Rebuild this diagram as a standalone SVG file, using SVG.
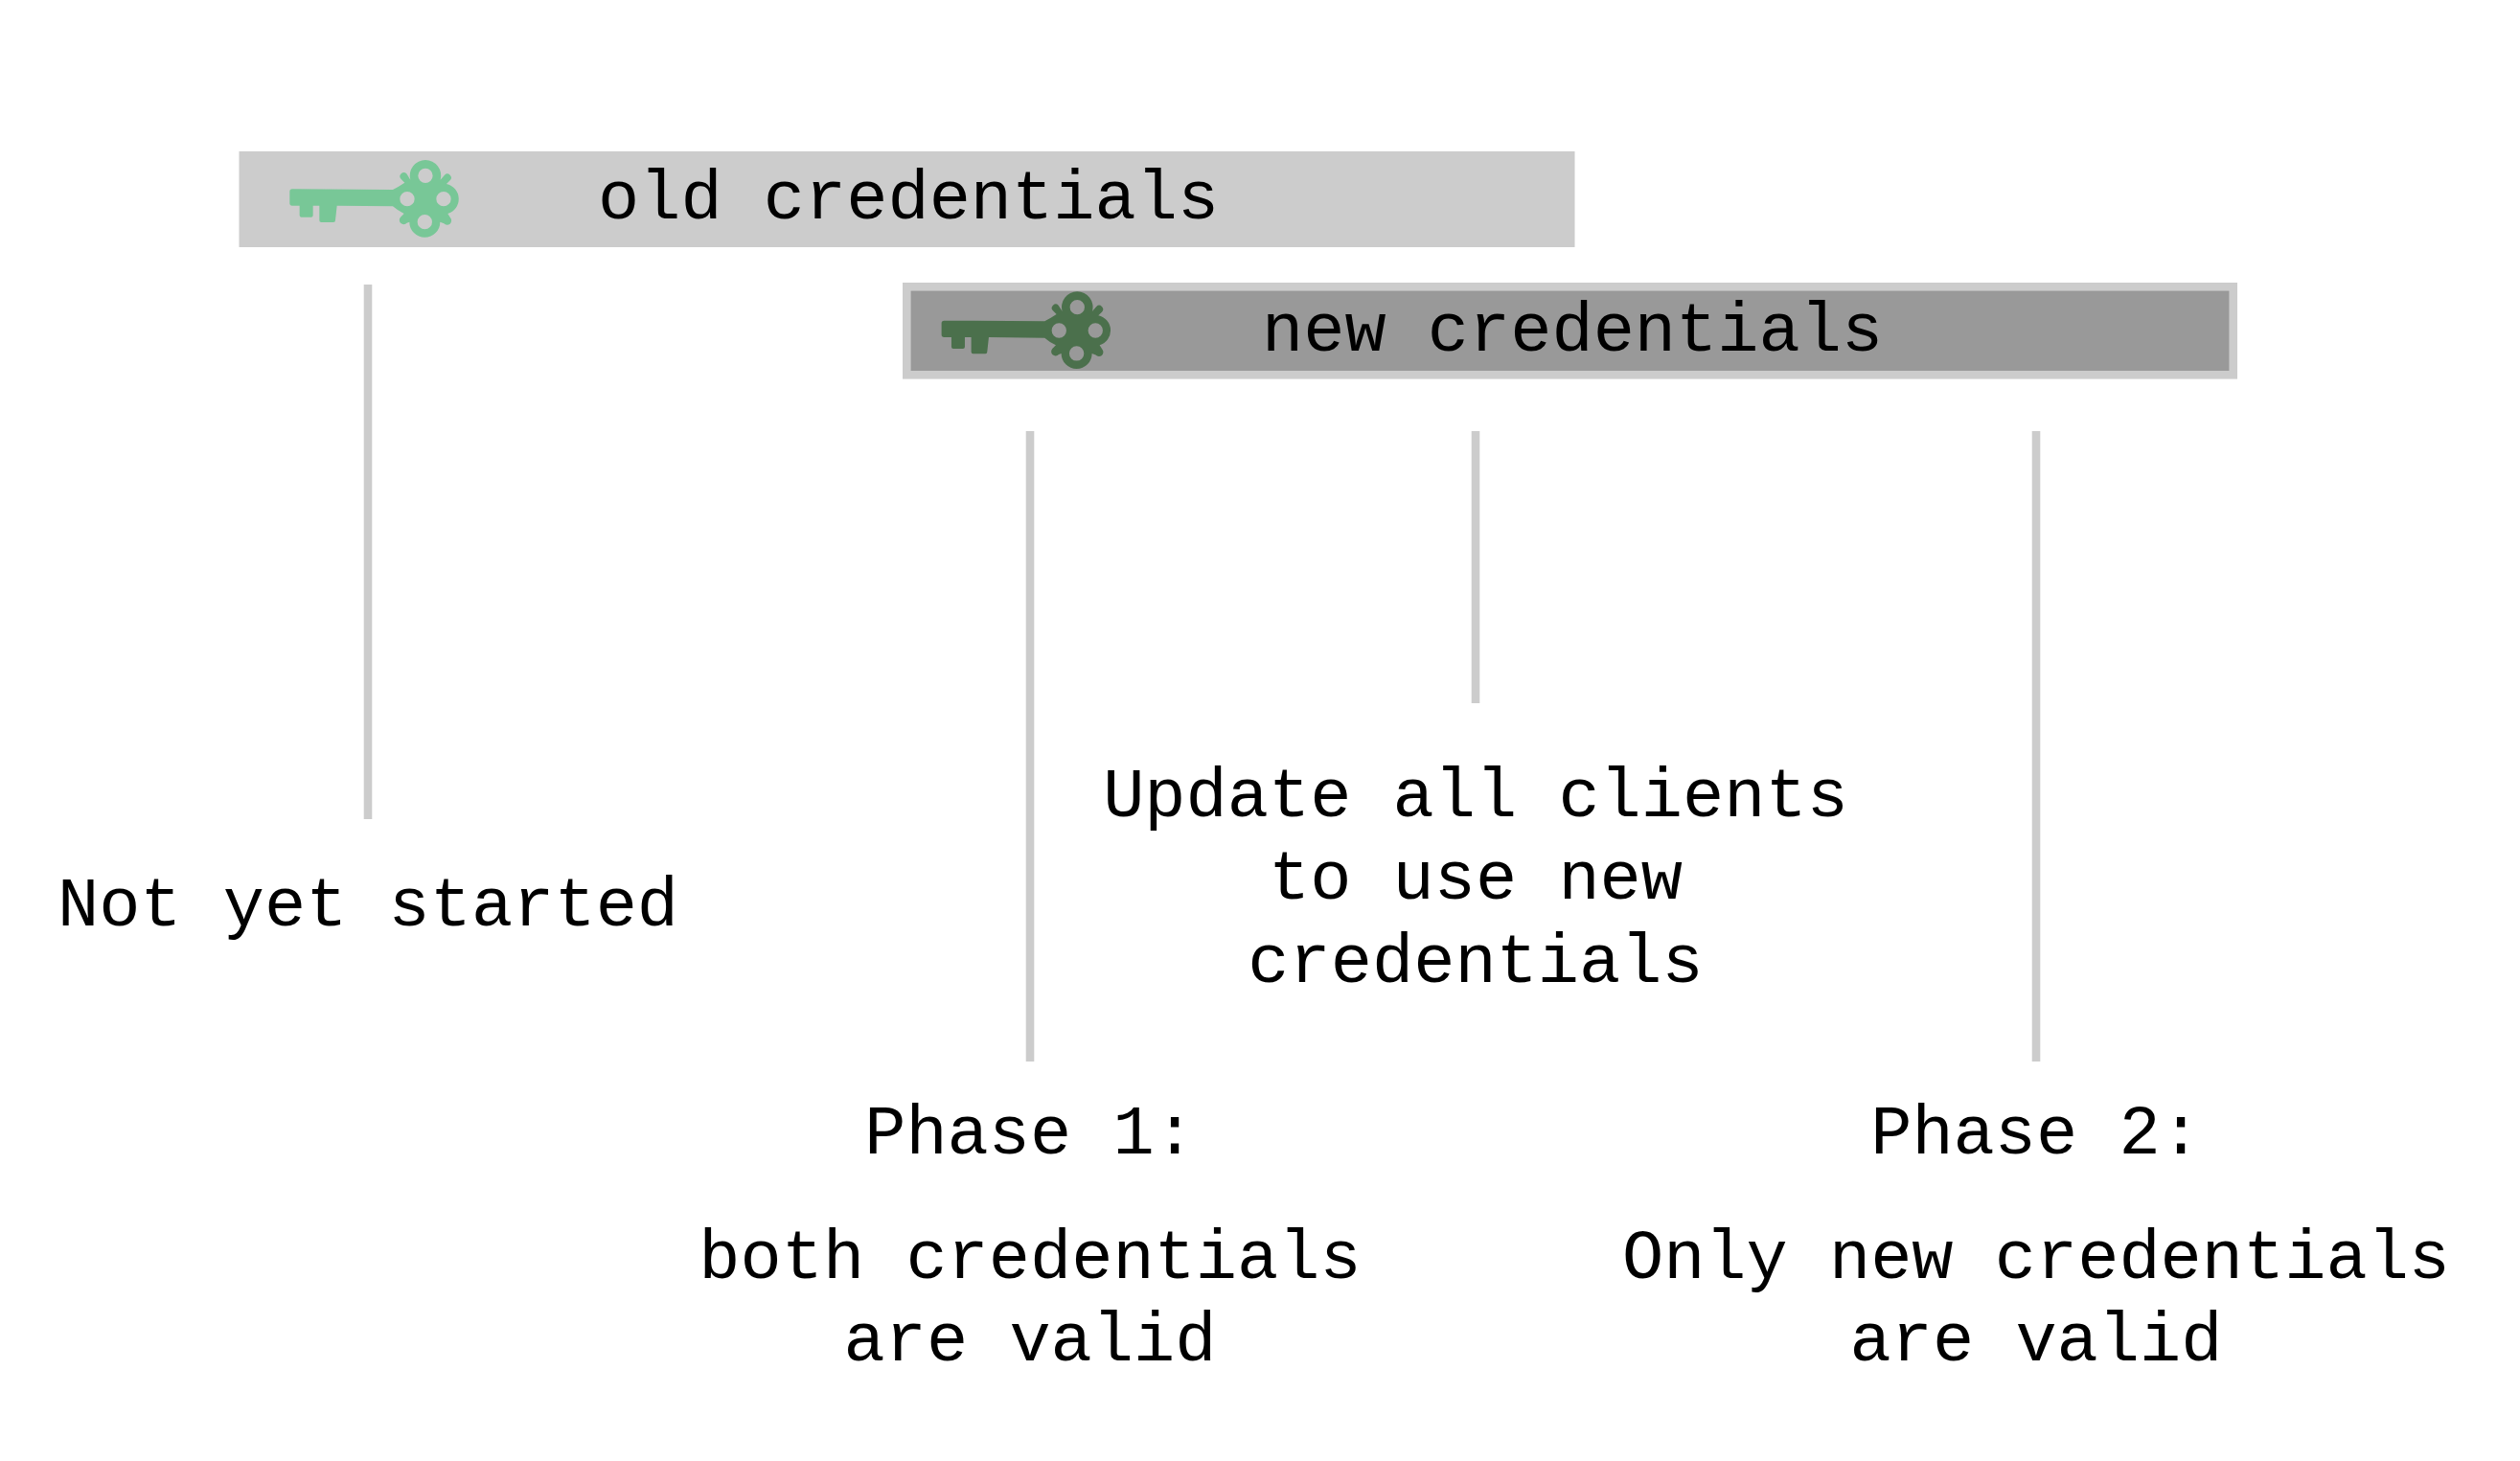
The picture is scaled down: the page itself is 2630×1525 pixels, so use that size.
<svg xmlns="http://www.w3.org/2000/svg" width="2630" height="1525" viewBox="0 0 2630 1525">
<style>
text{font-family:"Liberation Mono","Courier New",monospace;font-size:72px;fill:#000}
.c{text-anchor:middle}
.l{fill:none;stroke:#ccc;stroke-width:8.6}
</style>
<defs>
<path id="key" fill-rule="evenodd" transform="scale(0.3333)" d="M225 172L540 174Q556 166 577 152L566 141A12 12 0 0 1 583 124L595 143A48.8 48.8 0 1 1 689 143L702 128A12 12 0 0 1 719 145L708 156A48 48 0 0 1 712 249L720 262A12 12 0 0 1 700 280L688 275A48 48 0 1 1 592 275L584 278A12 12 0 0 1 564 260L575 249Q556 240 540 226L365 224L360 270Q360 276 354 276L316 276Q310 276 310 270L310 224L290 224L290 254Q290 260 284 260L254 260Q248 260 248 254L248 224L225 224Q217 224 217 216L217 180Q217 172 225 172Z
M619 130a23 23 0 1 0 46 0a23 23 0 1 0 -46 0Z
M562 203a23 23 0 1 0 46 0a23 23 0 1 0 -46 0Z
M676 203a23 23 0 1 0 46 0a23 23 0 1 0 -46 0Z
M617 275a23 23 0 1 0 46 0a23 23 0 1 0 -46 0Z"/>
</defs>
<rect width="2630" height="1525" fill="#fff"/>
<g id="connectors">
<line class="l" x1="384" y1="297" x2="384" y2="855"/>
<line class="l" x1="1075" y1="450" x2="1075" y2="1108"/>
<line class="l" x1="1540" y1="450" x2="1540" y2="734"/>
<line class="l" x1="2125" y1="450" x2="2125" y2="1108"/>
</g>
<g id="old-credentials">
<rect x="249.5" y="158" width="1394" height="100" fill="#ccc"/>
<use href="#key" transform="translate(230 140)" fill="#78c797"/>
<text x="624" y="228">old credentials</text>
</g>
<g id="new-credentials">
<rect x="946.3" y="299.3" width="1384.4" height="92" fill="#999" stroke="#ccc" stroke-width="8.6"/>
<use href="#key" transform="translate(910.3 277.3)" fill="#4b704c"/>
<text x="1317" y="366">new credentials</text>
</g>
<g id="not-started"><text class="c" x="384" y="966">Not yet started</text></g>
<g id="update-clients">
<text class="c" x="1540" y="852">Update all clients</text>
<text class="c" x="1540" y="938">to use new</text>
<text class="c" x="1540" y="1025">credentials</text>
</g>
<g id="phase-1">
<text class="c" x="1075" y="1204">Phase 1:</text>
<text class="c" x="1075" y="1334">both credentials</text>
<text class="c" x="1075" y="1420">are valid</text>
</g>
<g id="phase-2">
<text class="c" x="2125" y="1204">Phase 2:</text>
<text class="c" x="2125" y="1334">Only new credentials</text>
<text class="c" x="2125" y="1420">are valid</text>
</g>
</svg>
